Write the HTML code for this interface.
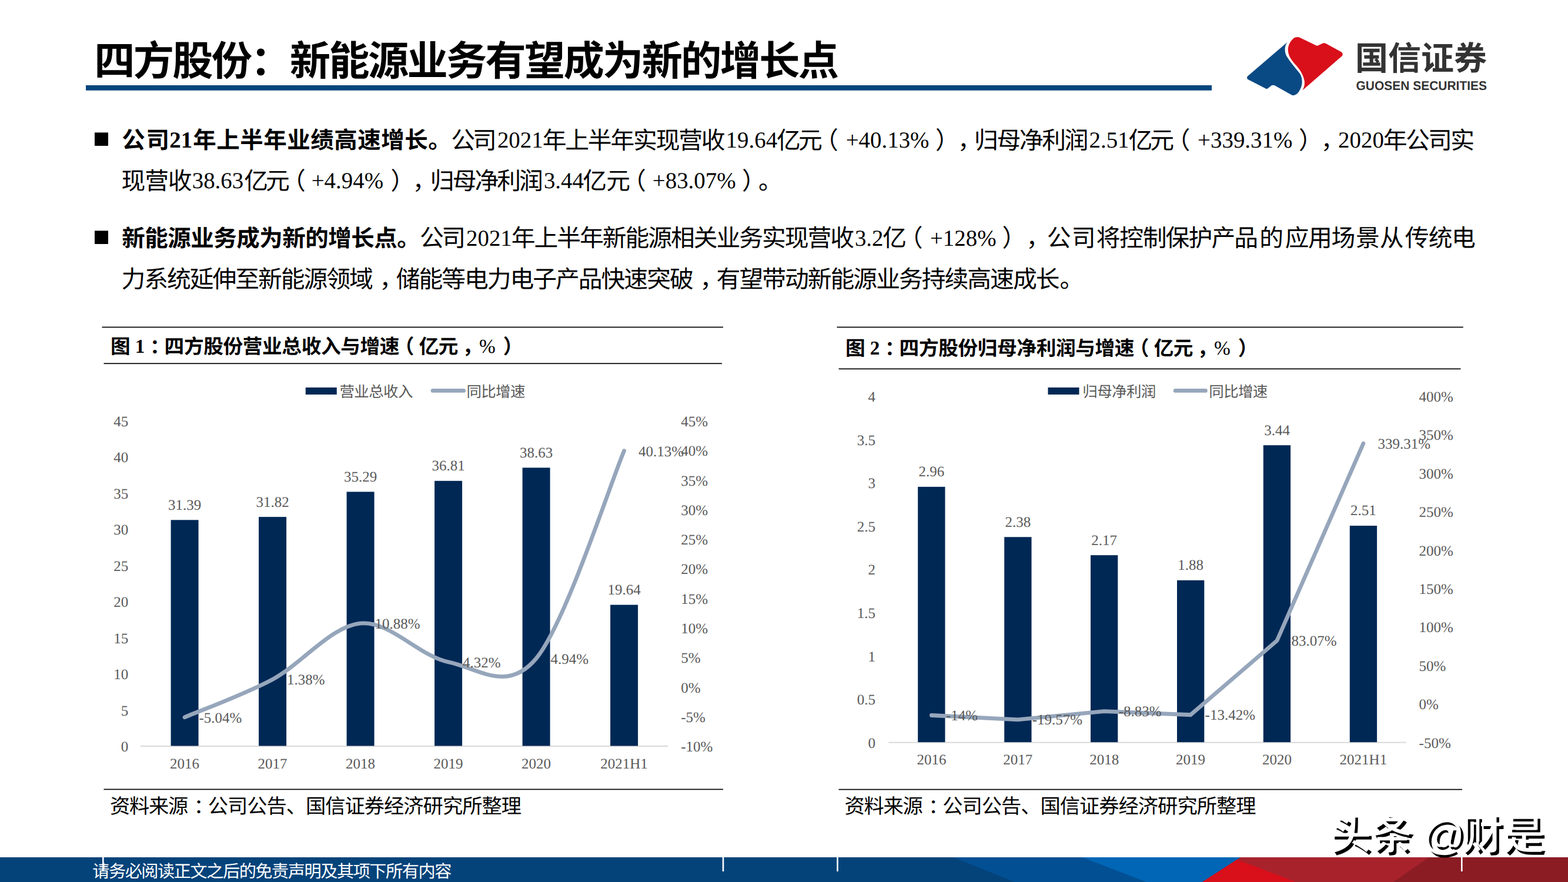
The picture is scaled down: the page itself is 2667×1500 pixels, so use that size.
<!DOCTYPE html><html lang="zh"><head><meta charset="utf-8"><title>四方股份：新能源业务有望成为新的增长点</title><style>html,body{margin:0;padding:0;background:#fff}body{width:2667px;height:1500px;overflow:hidden;font-family:"Liberation Serif",serif}svg{display:block}</style></head><body><svg width="2667" height="1500" viewBox="0 0 2667 1500" text-rendering="geometricPrecision">
<rect x="146" y="145" width="1915" height="8.8" fill="#05467E"/>
<text x="160.2" y="128.3" font-family="'Liberation Sans','Noto Sans CJK SC',sans-serif" font-size="69.3" font-weight="bold" fill="#000" textLength="1266.8" lengthAdjust="spacing">四方股份：新能源业务有望成为新的增长点</text>
<rect x="161" y="225.4" width="23" height="22.6" fill="#000"/>
<rect x="161" y="392.4" width="23" height="22.6" fill="#000"/>
<g font-family="'Liberation Sans','Noto Sans CJK SC',sans-serif" font-size="39.5" font-weight="bold" fill="#000"><text x="207.3" y="252.1" textLength="80.6" lengthAdjust="spacing">公司</text><text x="328.2" y="252.1" textLength="439.6" lengthAdjust="spacing">年上半年业绩高速增长。</text></g>
<g font-family="'Liberation Sans','Noto Sans CJK SC',sans-serif" font-size="40.8" fill="#000"><text x="767.2" y="252.6" textLength="77.7" lengthAdjust="spacing">公司</text><text x="922.7" y="252.6" textLength="310.9" lengthAdjust="spacing">年上半年实现营收</text><text x="1321" y="252.6" textLength="77.7" lengthAdjust="spacing">亿元</text><text x="1385.1" y="252.6">（</text><text x="1591" y="252.6">）</text><text x="1628.7" y="252.6">，</text><text x="1657.1" y="252.6" textLength="194.3" lengthAdjust="spacing">归母净利润</text><text x="1919.4" y="252.6" textLength="77.7" lengthAdjust="spacing">亿元</text><text x="1983.5" y="252.6">（</text><text x="2208.9" y="252.6">）</text><text x="2246.6" y="252.6">，</text><text x="2352.7" y="252.6" textLength="155.4" lengthAdjust="spacing">年公司实</text></g>
<g font-family="'Liberation Serif',serif" font-size="38.9" fill="#000"><text x="288.2" y="250.8" font-weight="bold">21</text><text x="845.9" y="250.8">2021</text><text x="1234.6" y="250.8">19.64</text><text x="1438.7" y="250.8">+40.13%</text><text x="1852.5" y="250.8">2.51</text><text x="2037.1" y="250.8">+339.31%</text><text x="2276.1" y="250.8">2020</text></g>
<g font-family="'Liberation Sans','Noto Sans CJK SC',sans-serif" font-size="40.8" fill="#000"><text x="206.6" y="322" textLength="119.9" lengthAdjust="spacing">现营收</text><text x="415.2" y="322" textLength="77.5" lengthAdjust="spacing">亿元</text><text x="479.1" y="322">（</text><text x="664.4" y="322">）</text><text x="701.6" y="322">，</text><text x="731.8" y="322" textLength="192.1" lengthAdjust="spacing">归母净利润</text><text x="991.2" y="322" textLength="80.9" lengthAdjust="spacing">亿元</text><text x="1057.9" y="322">（</text><text x="1262" y="322">）</text><text x="1290.1" y="322">。</text></g>
<g font-family="'Liberation Serif',serif" font-size="38.9" fill="#000"><text x="326.7" y="320.2">38.63</text><text x="529.7" y="320.2">+4.94%</text><text x="924.9" y="320.2">3.44</text><text x="1109.8" y="320.2">+83.07%</text></g>
<text x="207.3" y="418.9" font-family="'Liberation Sans','Noto Sans CJK SC',sans-serif" font-size="39.5" font-weight="bold" fill="#000" textLength="507.4" lengthAdjust="spacing">新能源业务成为新的增长点。</text>
<g font-family="'Liberation Sans','Noto Sans CJK SC',sans-serif" font-size="40.8" fill="#000"><text x="714" y="419.4" textLength="78" lengthAdjust="spacing">公司</text><text x="869.8" y="419.4" textLength="583.2" lengthAdjust="spacing">年上半年新能源相关业务实现营收</text><text x="1501.2 1528.8" y="419.4">亿（</text><text x="1704.6" y="419.4">）</text><text x="1745.3" y="419.4">，</text><text x="1780.7 1822.7 1864.7 1904.2 1943.7 1982.6 2021.6 2060.5 2099.3 2142.3 2185.8 2225.1 2264.4 2305.9 2346.8 2389.8 2429.8 2469" y="419.4">公司将控制保护产品的应用场景从传统电</text></g>
<g font-family="'Liberation Serif',serif" font-size="38.9" fill="#000"><text x="793" y="417.6">2021</text><text x="1453.9" y="417.6">3.2</text><text x="1581.9" y="417.6">+128%</text></g>
<g font-family="'Liberation Sans','Noto Sans CJK SC',sans-serif" font-size="40.8" fill="#000"><text x="206.6" y="488.7" textLength="428.2" lengthAdjust="spacing">力系统延伸至新能源领域</text><text x="645.3" y="488.7">，</text><text x="673.7" y="488.7" textLength="506" lengthAdjust="spacing">储能等电力电子产品快速突破</text><text x="1190.2" y="488.7">，</text><text x="1218.6" y="488.7" textLength="583.9" lengthAdjust="spacing">有望带动新能源业务持续高速成长</text><text x="1802.5" y="488.7">。</text></g>
<rect x="173.5" y="555.6" width="1056.5" height="1.7" fill="#000"/>
<rect x="176.5" y="617.4" width="1051.5" height="1.7" fill="#000"/>
<rect x="176.5" y="1341.6" width="1053.5" height="1.7" fill="#000"/>
<rect x="1423.5" y="555.6" width="1065.3" height="1.7" fill="#000"/>
<rect x="1426.5" y="626.5" width="1058" height="1.7" fill="#000"/>
<rect x="1426.5" y="1341.8" width="1060.5" height="1.7" fill="#000"/>
<g font-family="'Liberation Sans','Noto Sans CJK SC',sans-serif" font-size="33.7" font-weight="bold" fill="#000"><text x="187.9" y="600.8">图</text><text x="254.9" y="600.8">：</text><text x="279.6" y="600.8" textLength="399.9" lengthAdjust="spacing">四方股份营业总收入与增速</text><text x="670.7" y="600.8">（</text><text x="712.8" y="600.8" textLength="66.6" lengthAdjust="spacing">亿元</text><text x="786.4" y="600.8">，</text><text x="855.8" y="600.8">）</text></g><g font-family="'Liberation Serif',serif" font-size="33.3" fill="#000"><text x="229.8" y="599.9" font-weight="bold">1</text><text x="815" y="599.9">%</text></g>
<g font-family="'Liberation Sans','Noto Sans CJK SC',sans-serif" font-size="33.7" font-weight="bold" fill="#000"><text x="1437.9" y="604.3">图</text><text x="1504.9" y="604.3">：</text><text x="1529.6" y="604.3" textLength="399.9" lengthAdjust="spacing">四方股份归母净利润与增速</text><text x="1920.7" y="604.3">（</text><text x="1962.8" y="604.3" textLength="66.6" lengthAdjust="spacing">亿元</text><text x="2036.4" y="604.3">，</text><text x="2105.8" y="604.3">）</text></g><g font-family="'Liberation Serif',serif" font-size="33.3" fill="#000"><text x="1479.8" y="603.4" font-weight="bold">2</text><text x="2065" y="603.4">%</text></g>
<g font-family="'Liberation Sans','Noto Sans CJK SC',sans-serif" font-size="34.3" fill="#000"><text x="187.1" y="1382.8" textLength="133.3" lengthAdjust="spacing">资料来源</text><text x="329.4" y="1382.8">：</text><text x="353.7" y="1382.8" textLength="533.3" lengthAdjust="spacing">公司公告、国信证券经济研究所整理</text></g>
<g font-family="'Liberation Sans','Noto Sans CJK SC',sans-serif" font-size="34.3" fill="#000"><text x="1436.6" y="1382.8" textLength="133.3" lengthAdjust="spacing">资料来源</text><text x="1578.9" y="1382.8">：</text><text x="1603.2" y="1382.8" textLength="533.3" lengthAdjust="spacing">公司公告、国信证券经济研究所整理</text></g>
<rect x="239" y="1268" width="897.4" height="2" fill="#D9D9D9"/>
<g fill="#002855"><rect x="290.6" y="884.3" width="47" height="384.2"/><rect x="440.1" y="879.1" width="47" height="389.4"/><rect x="589.6" y="836.4" width="47" height="432.1"/><rect x="739.1" y="817.8" width="47" height="450.7"/><rect x="888.6" y="795.4" width="47" height="473.1"/><rect x="1038.1" y="1028.6" width="47" height="239.9"/></g>
<path d="M314.1 1219.8C339 1209 413.8 1182 463.6 1155.4C513.4 1128.7 563.3 1065 613.1 1060.1C662.9 1055.2 712.8 1115.9 762.6 1125.9C812.4 1135.8 862.3 1179.5 912.1 1119.7C961.9 1059.8 1036.7 825.5 1061.6 766.7" fill="none" stroke="#96A6BB" stroke-width="6.8" stroke-linecap="round" stroke-linejoin="round"/>
<g font-family="'Liberation Serif',serif" font-size="25" fill="#595959"><text x="314.1" y="866.7" text-anchor="middle">31.39</text><text x="314.1" y="1307" text-anchor="middle">2016</text><text x="338.4" y="1228.7">-5.04%</text><text x="463.6" y="861.5" text-anchor="middle">31.82</text><text x="463.6" y="1307" text-anchor="middle">2017</text><text x="487.9" y="1164.3">1.38%</text><text x="613.1" y="818.8" text-anchor="middle">35.29</text><text x="613.1" y="1307" text-anchor="middle">2018</text><text x="637.4" y="1069">10.88%</text><text x="762.6" y="800.2" text-anchor="middle">36.81</text><text x="762.6" y="1307" text-anchor="middle">2019</text><text x="786.9" y="1134.8">4.32%</text><text x="912.1" y="777.8" text-anchor="middle">38.63</text><text x="912.1" y="1307" text-anchor="middle">2020</text><text x="936.4" y="1128.6">4.94%</text><text x="1061.6" y="1011" text-anchor="middle">19.64</text><text x="1061.6" y="1307" text-anchor="middle">2021H1</text><text x="1085.9" y="775.6">40.13%</text><text x="218.3" y="1278" text-anchor="end">0</text><text x="218.3" y="1216.5" text-anchor="end">5</text><text x="218.3" y="1155" text-anchor="end">10</text><text x="218.3" y="1093.6" text-anchor="end">15</text><text x="218.3" y="1032.1" text-anchor="end">20</text><text x="218.3" y="970.6" text-anchor="end">25</text><text x="218.3" y="909.1" text-anchor="end">30</text><text x="218.3" y="847.6" text-anchor="end">35</text><text x="218.3" y="786.2" text-anchor="end">40</text><text x="218.3" y="724.7" text-anchor="end">45</text><text x="1158.2" y="1278">-10%</text><text x="1158.2" y="1227.7">-5%</text><text x="1158.2" y="1177.5">0%</text><text x="1158.2" y="1127.2">5%</text><text x="1158.2" y="1076.9">10%</text><text x="1158.2" y="1026.7">15%</text><text x="1158.2" y="976.4">20%</text><text x="1158.2" y="926.1">25%</text><text x="1158.2" y="875.8">30%</text><text x="1158.2" y="825.6">35%</text><text x="1158.2" y="775.3">40%</text><text x="1158.2" y="725">45%</text></g>
<rect x="519.8" y="659" width="53" height="12" fill="#002855"/>
<path d="M736.1 664.4H788.6" stroke="#96A6BB" stroke-width="6.8" stroke-linecap="round"/>
<g font-family="'Liberation Sans','Noto Sans CJK SC',sans-serif" font-size="25.5" fill="#595959"><text x="577.5" y="674.8" textLength="125" lengthAdjust="spacing">营业总收入</text><text x="793.4" y="674.8" textLength="100" lengthAdjust="spacing">同比增速</text></g>
<rect x="1511.5" y="1261.7" width="880.2" height="2" fill="#D9D9D9"/>
<g fill="#002855"><rect x="1561.2" y="827.9" width="46.3" height="434.3"/><rect x="1708.2" y="913.3" width="46.3" height="348.9"/><rect x="1855" y="944.2" width="46.3" height="318"/><rect x="2002" y="986.9" width="46.3" height="275.3"/><rect x="2148.8" y="757.2" width="46.3" height="505"/><rect x="2295.8" y="894.1" width="46.3" height="368.1"/></g>
<path d="M1584.4 1216.5L1731.3 1223.8L1878.2 1209.7L2025.1 1215.7L2172 1089.5L2318.9 754.2" fill="none" stroke="#96A6BB" stroke-width="6.8" stroke-linecap="round" stroke-linejoin="miter"/>
<g font-family="'Liberation Serif',serif" font-size="25" fill="#595959"><text x="1584.4" y="810.2" text-anchor="middle">2.96</text><text x="1584.4" y="1299.8" text-anchor="middle">2016</text><text x="1608.9" y="1225.1">-14%</text><text x="1731.3" y="895.6" text-anchor="middle">2.38</text><text x="1731.3" y="1299.8" text-anchor="middle">2017</text><text x="1755.8" y="1232.4">-19.57%</text><text x="1878.2" y="926.5" text-anchor="middle">2.17</text><text x="1878.2" y="1299.8" text-anchor="middle">2018</text><text x="1902.7" y="1218.3">-8.83%</text><text x="2025.1" y="969.2" text-anchor="middle">1.88</text><text x="2025.1" y="1299.8" text-anchor="middle">2019</text><text x="2049.6" y="1224.3">-13.42%</text><text x="2172" y="739.5" text-anchor="middle">3.44</text><text x="2172" y="1299.8" text-anchor="middle">2020</text><text x="2196.5" y="1098.1">83.07%</text><text x="2318.9" y="876.4" text-anchor="middle">2.51</text><text x="2318.9" y="1299.8" text-anchor="middle">2021H1</text><text x="2343.4" y="762.8">339.31%</text><text x="1488.9" y="1271.7" text-anchor="end">0</text><text x="1488.9" y="1198.1" text-anchor="end">0.5</text><text x="1488.9" y="1124.5" text-anchor="end">1</text><text x="1488.9" y="1050.9" text-anchor="end">1.5</text><text x="1488.9" y="977.3" text-anchor="end">2</text><text x="1488.9" y="903.7" text-anchor="end">2.5</text><text x="1488.9" y="830.1" text-anchor="end">3</text><text x="1488.9" y="756.5" text-anchor="end">3.5</text><text x="1488.9" y="682.9" text-anchor="end">4</text><text x="2413.6" y="1271.7">-50%</text><text x="2413.6" y="1206.3">0%</text><text x="2413.6" y="1140.9">50%</text><text x="2413.6" y="1075.4">100%</text><text x="2413.6" y="1010">150%</text><text x="2413.6" y="944.6">200%</text><text x="2413.6" y="879.2">250%</text><text x="2413.6" y="813.8">300%</text><text x="2413.6" y="748.3">350%</text><text x="2413.6" y="682.9">400%</text></g>
<rect x="1782.5" y="659" width="53" height="12" fill="#002855"/>
<path d="M1999.2 664.4H2050.4" stroke="#96A6BB" stroke-width="6.8" stroke-linecap="round"/>
<g font-family="'Liberation Sans','Noto Sans CJK SC',sans-serif" font-size="25.5" fill="#595959"><text x="1841.3" y="674.8" textLength="125" lengthAdjust="spacing">归母净利润</text><text x="2056.3" y="674.8" textLength="100" lengthAdjust="spacing">同比增速</text></g>
<rect x="0" y="1458" width="2667" height="42" fill="#054A82"/>
<path d="M0 1458 H1621 L1726 1500 H0z" fill="#04437A"/>
<path d="M1621 1458 H1840 L1949.6 1500 H1726z" fill="#024F93"/>
<path d="M1840 1458 H2110 L2045 1500 H1949.6z" fill="#0066B5"/>
<path d="M2110 1458 L2045 1500 H2667 V1458 z" fill="#A8222C"/>
<path d="M2104 1462 L2045 1500 H2204.4z" fill="#D90F1A"/>
<path d="M2430.4 1458 L2369.8 1500 H2667 V1458 z" fill="#8B1C24"/>
<rect x="174" y="1458" width="2.6" height="24" fill="#fff"/>
<rect x="1228.7" y="1458" width="2.6" height="24" fill="#fff"/>
<rect x="1423.2" y="1458" width="2.6" height="24" fill="#fff"/>
<rect x="2485" y="1458" width="2.6" height="24" fill="#fff"/>
<text x="157.2" y="1491.5" font-family="'Liberation Sans','Noto Sans CJK SC',sans-serif" font-size="29.2" fill="#fff" textLength="611.2" lengthAdjust="spacing">请务必阅读正文之后的免责声明及其项下所有内容</text>
<path d="M2189.9 71.4 C2184 78 2184.5 90 2189.5 97.2 C2195 106 2203 115 2210.9 125.1 C2216 133 2215.5 145 2211.8 151.2 C2209 157 2206 160.5 2202.5 161.5 Q2199.5 162.8 2196.9 161.5 L2168 145.2 Q2164 143.5 2160.6 147 L2155.9 150.8 Q2154 152 2152.2 150.3 L2122.5 135 Q2119.5 132.5 2122.4 129.3 Z" fill="#0A4A84"/>
<path d="M2205.3 63.2 Q2201.5 63 2198.8 66.4 C2193 72 2190 80 2190.9 86.9 C2191.5 95 2197 103 2205.3 112.1 C2212 120 2217.5 129 2218.8 138.2 C2219.5 144 2218 149 2215.5 153.6 L2282.6 95.3 Q2285.5 91.8 2281.2 88.3 L2256.5 74.8 Q2252.5 72.5 2249.1 73.9 L2241.6 77.6 Q2239.7 78.2 2237.9 77.1 L2210 63.6 Q2207.5 62.8 2205.3 63.2 Z" fill="#D90F1A"/>
<text x="2305" y="118.5" font-family="'Liberation Sans','Noto Sans CJK SC',sans-serif" font-size="56" font-weight="bold" fill="#333" textLength="224" lengthAdjust="spacing">国信证券</text>
<text x="2306.5" y="153.4" font-family="'Liberation Sans',sans-serif" font-weight="bold" font-size="21.5" fill="#333" textLength="222.5" lengthAdjust="spacingAndGlyphs">GUOSEN SECURITIES</text>
<text x="2266.5 2337 2424.5 2490.6 2561.1" y="1448.5" font-family="'Liberation Sans','Noto Sans CJK SC',sans-serif" font-size="70" font-weight="500" fill="#000">头条@财是</text>
<text x="2262 2332.5 2420 2486.1 2556.6" y="1444" font-family="'Liberation Sans','Noto Sans CJK SC',sans-serif" font-size="70" font-weight="500" fill="#fff">头条@财是</text></svg></body></html>
